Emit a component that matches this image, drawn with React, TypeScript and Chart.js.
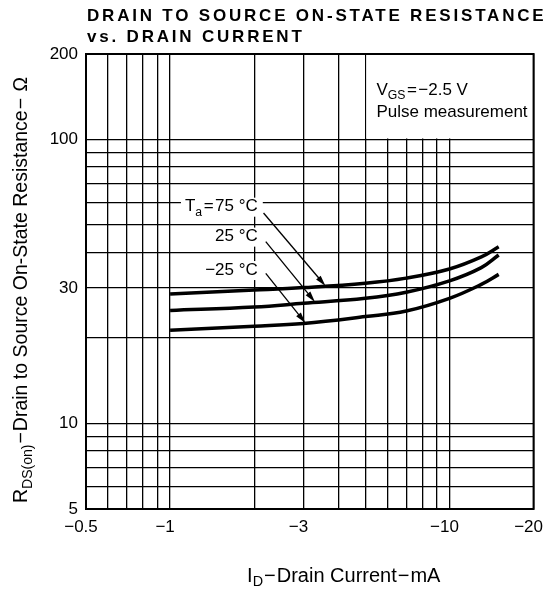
import React, { useEffect, useRef } from "react";
import { Chart, registerables } from "chart.js";

Chart.register(...registerables);

// ---- data ----
const currentMA = [1, 2, 3, 5, 7, 10, 13, 15];
const r75 = [28.6, 29.5, 30.1, 31.2, 32.5, 35.0, 38.6, 41.9];
const r25 = [25.0, 25.7, 26.5, 27.6, 29.0, 31.8, 35.4, 39.2];
const rMinus25 = [21.3, 22.0, 22.5, 23.8, 24.9, 27.6, 30.9, 33.5];

const xGridValues = [0.5, 0.6, 0.7, 0.8, 0.9, 1, 2, 3, 4, 5, 6, 7, 8, 9, 10, 20];
const xTickLabels = [0.5, 1, 3, 10, 20];
const yGridValues = [5, 6, 7, 8, 9, 10, 20, 30, 40, 50, 60, 70, 80, 90, 100, 200];
const yTickLabels = [5, 10, 30, 100, 200];

// annotation anchors (data units: mA magnitude, ohms)
const labelAnchors = [
  [2.06, 58.0],
  [2.06, 45.5],
  [2.06, 34.7],
];
const arrowStarts = [
  [2.16, 55.1],
  [2.2, 43.7],
  [2.2, 33.8],
];
const arrowEnds = [
  [3.6, 30.5],
  [3.3, 26.8],
  [3.05, 22.6],
];
const conditionBox = { xFrom: 5, xTo: 20, yFrom: 100, yTo: 200 };

const FONT = "'Liberation Sans', Arial, Helvetica, sans-serif";

type Part = { t: string; sub?: boolean; gap?: number };

function measureRich(ctx: CanvasRenderingContext2D, parts: Part[], size: number) {
  return parts.map((p) => {
    ctx.font = `${p.sub ? size * 0.72 : size}px ${FONT}`;
    return ctx.measureText(p.t).width + (p.gap || 0) * 2;
  });
}

function drawRich(
  ctx: CanvasRenderingContext2D,
  parts: Part[],
  x: number,
  y: number,
  align: "left" | "right" | "center",
  size: number
) {
  const widths = measureRich(ctx, parts, size);
  const total = widths.reduce((a, b) => a + b, 0);
  let cx = align === "right" ? x - total : align === "center" ? x - total / 2 : x;
  const left = cx;
  ctx.textAlign = "left";
  ctx.textBaseline = "middle";
  parts.forEach((p, i) => {
    ctx.font = `${p.sub ? size * 0.72 : size}px ${FONT}`;
    ctx.fillText(p.t, cx + (p.gap || 0), p.sub ? y + size * 0.32 : y);
    cx += widths[i];
  });
  return { left, width: total };
}

const seriesLabelParts: Part[][] = [
  [{ t: "T" }, { t: "a", sub: true }, { t: "=", gap: 1.5 }, { t: "75 °C" }],
  [{ t: "25 °C" }],
  [{ t: "−25 °C" }],
];

const annotationPlugin = {
  id: "annotations",
  beforeDatasetsDraw(chart: any) {
    const { ctx, scales } = chart;
    const xs = scales.x;
    const ys = scales.y;
    ctx.save();
    ctx.fillStyle = "#fff";
    const bx0 = xs.getPixelForValue(conditionBox.xFrom) + 1;
    const bx1 = xs.getPixelForValue(conditionBox.xTo);
    const by0 = ys.getPixelForValue(conditionBox.yTo);
    const by1 = ys.getPixelForValue(conditionBox.yFrom) - 1;
    ctx.fillRect(bx0, by0, bx1 - bx0, by1 - by0);
    seriesLabelParts.forEach((parts, i) => {
      const w = measureRich(ctx, parts, 17).reduce((a, b) => a + b, 0);
      const px = xs.getPixelForValue(labelAnchors[i][0]);
      const py = ys.getPixelForValue(labelAnchors[i][1]);
      ctx.fillRect(px - w - 4, py - 9, w + 9, 19);
    });
    ctx.restore();
  },
  afterDatasetsDraw(chart: any) {
    const { ctx, scales } = chart;
    const xs = scales.x;
    const ys = scales.y;
    ctx.save();
    ctx.fillStyle = "#000";
    ctx.strokeStyle = "#000";
    seriesLabelParts.forEach((parts, i) => {
      const px = xs.getPixelForValue(labelAnchors[i][0]);
      const py = ys.getPixelForValue(labelAnchors[i][1]);
      drawRich(ctx, parts, px, py, "right", 17);
      const sx = xs.getPixelForValue(arrowStarts[i][0]);
      const sy = ys.getPixelForValue(arrowStarts[i][1]);
      const ex = xs.getPixelForValue(arrowEnds[i][0]);
      const ey = ys.getPixelForValue(arrowEnds[i][1]);
      const ang = Math.atan2(ey - sy, ex - sx);
      const L = 11;
      const H = 3;
      ctx.lineWidth = 1.3;
      ctx.beginPath();
      ctx.moveTo(sx, sy);
      ctx.lineTo(ex - Math.cos(ang) * L * 0.8, ey - Math.sin(ang) * L * 0.8);
      ctx.stroke();
      ctx.beginPath();
      ctx.moveTo(ex, ey);
      ctx.lineTo(ex - Math.cos(ang) * L - Math.sin(ang) * H, ey - Math.sin(ang) * L + Math.cos(ang) * H);
      ctx.lineTo(ex - Math.cos(ang) * L + Math.sin(ang) * H, ey - Math.sin(ang) * L - Math.cos(ang) * H);
      ctx.closePath();
      ctx.fill();
    });
    const tx = xs.getPixelForValue(conditionBox.xFrom) + 11;
    const ty = ys.getPixelForValue(conditionBox.yTo);
    drawRich(ctx, [{ t: "V" }, { t: "GS", sub: true }, { t: "=", gap: 1.5 }, { t: "−2.5 V" }], tx, ty + 36, "left", 17);
    drawRich(ctx, [{ t: "Pulse measurement" }], tx, ty + 58, "left", 17);
    ctx.restore();
  },
  afterDraw(chart: any) {
    const { ctx, chartArea } = chart;
    ctx.save();
    ctx.strokeStyle = "#000";
    ctx.lineWidth = 2;
    ctx.strokeRect(chartArea.left, chartArea.top, chartArea.right - chartArea.left, chartArea.bottom - chartArea.top);
    ctx.fillStyle = "#000";
    ctx.textAlign = "left";
    ctx.textBaseline = "middle";
    ctx.font = `bold 17px ${FONT}`;
    (ctx as any).letterSpacing = "2.8px";
    ctx.fillText("DRAIN TO SOURCE ON-STATE RESISTANCE", chartArea.left + 1, 16);
    ctx.fillText("vs. DRAIN CURRENT", chartArea.left + 1, 37);
    (ctx as any).letterSpacing = "0px";
    drawRich(
      ctx,
      [{ t: "I" }, { t: "D", sub: true }, { t: "−", gap: 1 }, { t: "Drain Current" }, { t: "−", gap: 1 }, { t: "mA" }],
      (chartArea.left + chartArea.right) / 2 + 34,
      576,
      "center",
      20
    );
    ctx.translate(22, 290);
    ctx.rotate(-Math.PI / 2);
    drawRich(
      ctx,
      [
        { t: "R" },
        { t: "DS(on)", sub: true },
        { t: "−", gap: 1 },
        { t: "Drain to Source On-State Resistance" },
        { t: "−", gap: 1 },
        { t: " Ω" },
      ],
      0,
      0,
      "center",
      19.5
    );
    ctx.restore();
  },
};

export default function App() {
  const ref = useRef<HTMLCanvasElement | null>(null);
  useEffect(() => {
    if (!ref.current) return;
    const mk = (ys: number[]) => currentMA.map((x, i) => ({ x, y: ys[i] }));
    const ds = (label: string, ys: number[]) => ({
      label,
      data: mk(ys),
      borderColor: "#000",
      borderWidth: 3.5,
      pointRadius: 0,
      fill: false,
      tension: 0.4,
    });
    const chart = new Chart(ref.current, {
      type: "line",
      data: {
        datasets: [ds("75 °C", r75), ds("25 °C", r25), ds("−25 °C", rMinus25)],
      },
      options: {
        animation: false,
        responsive: false,
        devicePixelRatio: 1,
        layout: { padding: { top: 54, right: 12, left: 0, bottom: 0 } },
        plugins: { legend: { display: false }, tooltip: { enabled: false }, title: { display: false } },
        scales: {
          x: {
            type: "logarithmic",
            min: 0.5,
            max: 20,
            afterBuildTicks: (s: any) => {
              s.ticks = xGridValues.map((v) => ({ value: v }));
            },
            afterFit: (s: any) => {
              s.height = 80;
            },
            border: { display: false },
            grid: { color: "#000", lineWidth: 1.3, drawTicks: false },
            ticks: {
              autoSkip: false,
              maxRotation: 0,
              minRotation: 0,
              padding: 8,
              labelOffset: -5,
              color: "#000",
              font: { family: FONT, size: 17 },
              callback: (v: any) => (xTickLabels.includes(Number(v)) ? "−" + String(v) : ""),
            },
          },
          y: {
            type: "logarithmic",
            min: 5,
            max: 200,
            afterBuildTicks: (s: any) => {
              s.ticks = yGridValues.map((v) => ({ value: v }));
            },
            afterFit: (s: any) => {
              s.width = 86;
            },
            border: { display: false },
            grid: { color: "#000", lineWidth: 1.3, drawTicks: false },
            ticks: {
              autoSkip: false,
              padding: 8,
              color: "#000",
              font: { family: FONT, size: 17 },
              callback: (v: any) => (yTickLabels.includes(Number(v)) ? String(v) : ""),
            },
          },
        },
      },
      plugins: [annotationPlugin],
    });
    return () => chart.destroy();
  }, []);
  return (
    <div style={{ position: "fixed", left: 0, top: 0, width: 556, height: 589, background: "#fff" }}>
      <canvas ref={ref} width={556} height={589} style={{ width: 556, height: 589 }} />
    </div>
  );
}
